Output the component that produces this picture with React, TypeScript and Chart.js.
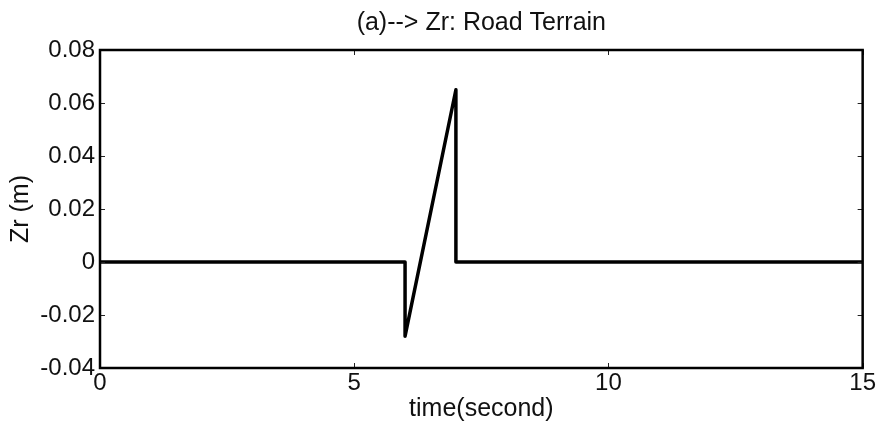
import React, { useEffect, useRef } from "react";
import { Chart, registerables } from "chart.js";

Chart.register(...registerables);

const timePoints = [0, 6, 6, 7, 7, 15];
const zrValues = [0, 0, -0.028, 0.065, 0, 0];
const xTicks = [0, 5, 10, 15];
const yTicks = [-0.04, -0.02, 0, 0.02, 0.04, 0.06, 0.08];
const chartTitle = "(a)--> Zr: Road Terrain";

const FONT = "'Liberation Sans', Arial, sans-serif";

const framePlugin = {
  id: "frameTicks",
  afterDraw(chart: any) {
    const { ctx, chartArea } = chart;
    const xs = chart.scales.x;
    const ys = chart.scales.y;
    ctx.save();
    ctx.strokeStyle = "#222";
    ctx.lineWidth = 1;
    const tl = 5;
    ctx.beginPath();
    yTicks.forEach((v) => {
      const py = Math.round(ys.getPixelForValue(v)) + 0.5;
      ctx.moveTo(chartArea.left, py);
      ctx.lineTo(chartArea.left + tl, py);
      ctx.moveTo(chartArea.right, py);
      ctx.lineTo(chartArea.right - tl, py);
    });
    xTicks.forEach((v) => {
      const px = Math.round(xs.getPixelForValue(v)) + 0.5;
      ctx.moveTo(px, chartArea.bottom);
      ctx.lineTo(px, chartArea.bottom - tl);
      ctx.moveTo(px, chartArea.top);
      ctx.lineTo(px, chartArea.top + tl);
    });
    ctx.stroke();
    ctx.strokeStyle = "#000";
    ctx.lineWidth = 2.5;
    ctx.strokeRect(chartArea.left, chartArea.top, chartArea.right - chartArea.left, chartArea.bottom - chartArea.top);
    // title centred over the plot area
    ctx.fillStyle = "#111";
    ctx.font = `25px ${FONT}`;
    ctx.textAlign = "center";
    ctx.textBaseline = "middle";
    ctx.fillText(chartTitle, (chartArea.left + chartArea.right) / 2, 23);
    ctx.restore();
  },
};

export default function App() {
  const ref = useRef<HTMLCanvasElement | null>(null);
  useEffect(() => {
    if (!ref.current) return;
    const chart = new Chart(ref.current, {
      type: "scatter",
      data: {
        datasets: [
          {
            data: timePoints.map((t, i) => ({ x: t, y: zrValues[i] })),
            showLine: true,
            borderColor: "#000",
            borderWidth: 3.5,
            pointRadius: 0,
            tension: 0,
            borderJoinStyle: "round",
            borderCapStyle: "round",
          },
        ],
      },
      options: {
        animation: false,
        responsive: false,
        maintainAspectRatio: false,
        layout: { padding: { left: 0, right: 14, top: 50, bottom: 0 } },
        plugins: {
          legend: { display: false },
          tooltip: { enabled: false },
          title: { display: false },
        },
        scales: {
          x: {
            type: "linear",
            min: 0,
            max: 15,
            afterBuildTicks: (s: any) => {
              s.ticks = xTicks.map((v) => ({ value: v }));
            },
            afterFit: (s: any) => {
              s.height = 58;
            },
            grid: { display: false, drawTicks: false },
            border: { display: false },
            ticks: {
              color: "#111",
              font: { family: FONT, size: 24 },
              padding: 1,
              maxRotation: 0,
              autoSkip: false,
            },
            title: {
              display: true,
              text: "time(second)",
              color: "#111",
              font: { family: FONT, size: 25 },
              padding: { top: 0, bottom: 2 },
            },
          },
          y: {
            type: "linear",
            min: -0.04,
            max: 0.08,
            afterBuildTicks: (s: any) => {
              s.ticks = yTicks.map((v) => ({ value: v }));
            },
            afterFit: (s: any) => {
              s.width = 100;
            },
            grid: { display: false, drawTicks: false },
            border: { display: false },
            ticks: {
              color: "#111",
              font: { family: FONT, size: 24 },
              padding: 5,
              autoSkip: false,
              callback: (v: any) => {
                const n = Number(v);
                if (Math.abs(n) < 1e-9) return "0";
                return n.toFixed(2);
              },
            },
            title: {
              display: true,
              text: "Zr (m)",
              color: "#111",
              font: { family: FONT, size: 25 },
              padding: { top: 6, bottom: 0 },
            },
          },
        },
      },
      plugins: [framePlugin],
    } as any);
    return () => chart.destroy();
  }, []);
  return (
    <div style={{ position: "fixed", left: 0, top: 0, width: 877, height: 426, background: "#fff" }}>
      <canvas ref={ref} width={877} height={426} style={{ width: 877, height: 426 }} />
    </div>
  );
}
